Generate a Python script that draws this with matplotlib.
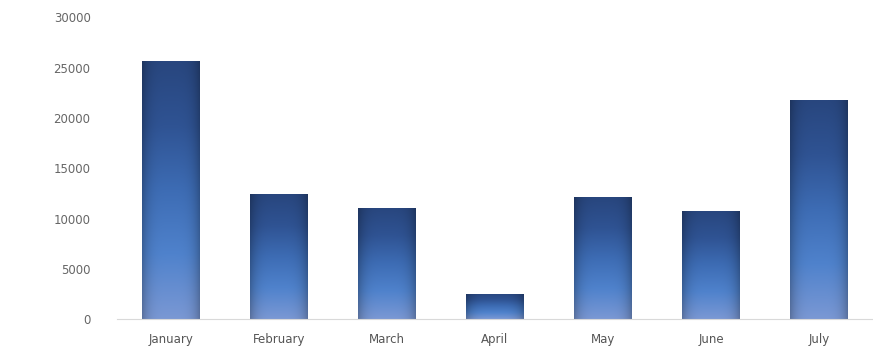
import matplotlib
matplotlib.use("Agg")
import matplotlib.pyplot as plt
import numpy as np
from matplotlib.colors import LinearSegmentedColormap

months = ["January", "February", "March", "April", "May", "June", "July"]
sales = [25700, 12400, 11100, 2500, 12100, 10800, 21800]
y_ticks = [0, 5000, 10000, 15000, 20000, 25000, 30000]
y_tick_labels = ["0", "5000", "10000", "15000", "20000", "25000", "30000"]

fig = plt.figure(figsize=(8.73, 3.47), dpi=100)
ax = fig.add_axes([0.134, 0.08, 0.866, 0.87])

x = np.arange(len(months))
width = 0.53
bars = ax.bar(x, sales, width=width, color="none", edgecolor="none", zorder=2)

# vertical blue gradient, dark on top, lighter toward the base
vert = LinearSegmentedColormap.from_list(
    "barfill", ["#7a98d4", "#4f82cc", "#3d6cb4", "#2f5393", "#28467e"])
ny, nx = 200, 60
v = np.linspace(0, 1, ny)[:, None]
h = np.linspace(-1, 1, nx)[None, :]
rgb = vert(np.repeat(v, nx, axis=1))[..., :3]
# darker at the left/right edges of each bar
shade = 1 - 0.25 * np.abs(h) ** 4
rgb = rgb * shade[..., None]

for b in bars:
    x0, y0 = b.get_x(), b.get_y()
    w, hgt = b.get_width(), b.get_height()
    im = ax.imshow(rgb, extent=[x0, x0 + w, y0, y0 + hgt], origin="lower",
                   aspect="auto", interpolation="bilinear", zorder=2)
    im.set_clip_path(b)

ax.set_xlim(-0.5, len(months) - 0.5)
ax.set_ylim(0, 30000)
ax.set_xticks(x)
ax.set_xticklabels(months, fontsize=8.5, color="#555555")
ax.set_yticks(y_ticks)
ax.set_yticklabels(y_tick_labels, fontsize=8.5, color="#666666")
ax.tick_params(axis="both", length=0, pad=10)
ax.tick_params(axis="y", pad=19)

for side in ["top", "right", "left"]:
    ax.spines[side].set_visible(False)
ax.spines["bottom"].set_color("#d9d9d9")

fig.savefig("out.png", dpi=100)
